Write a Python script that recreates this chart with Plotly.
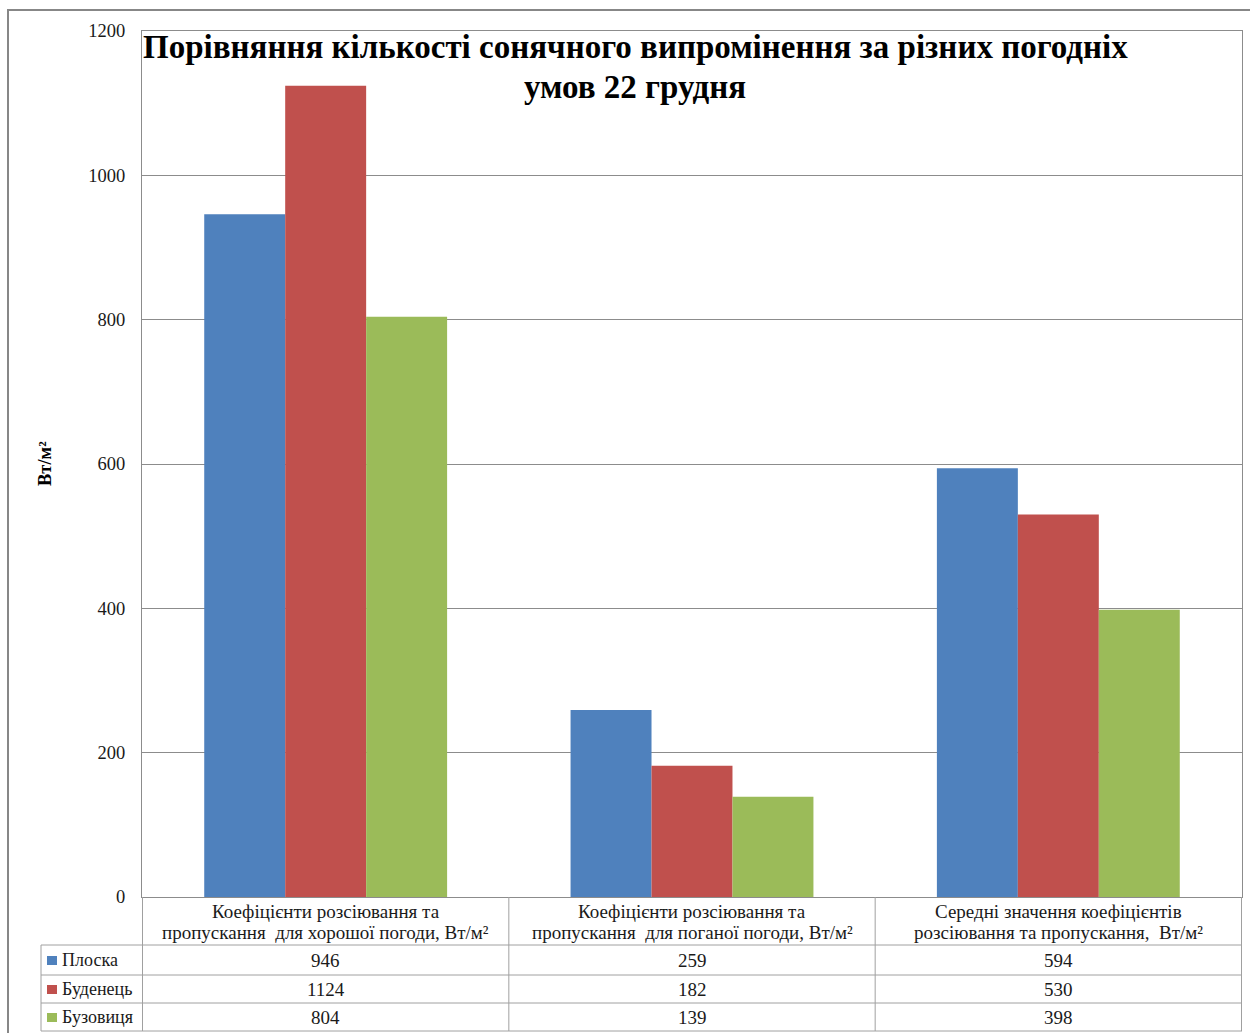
import plotly.graph_objects as go

# ---- data ----
categories = [
    "Коефіцієнти розсіювання та<br>пропускання  для хорошої погоди, Вт/м²",
    "Коефіцієнти розсіювання та<br>пропускання  для поганої погоди, Вт/м²",
    "Середні значення коефіцієнтів<br>розсіювання та пропускання,  Вт/м²",
]
series_names = ["Плоска", "Буденець", "Бузовиця"]
ploska = [946, 259, 594]
budenets = [1124, 182, 530]
buzovytsia = [804, 139, 398]
series_values = [ploska, budenets, buzovytsia]
series_colors = ["#4F81BD", "#C0504D", "#9BBB59"]

y_ticks = [0, 200, 400, 600, 800, 1000, 1200]
title_text = "Порівняння кількості сонячного випромінення за різних погодніх<br>умов 22 грудня"
y_title = "Вт/м²"

# ---- page geometry (pixels) ----
W, H = 1250, 1033
PLOT_L, PLOT_R, PLOT_T, PLOT_B = 142, 1242, 31, 897
TABLE_L = 41
ROW_Y = [945, 975, 1003, 1031]   # bottoms of header row and each series row
GRID = "#8c8c8c"
TABLE_LINE = "#a0a0a0"
FONT = "Liberation Serif"
TXT = "#1a1a1a"


def px(x):
    return x / W


def py(y):
    return 1 - y / H


fig = go.Figure()
for name, vals, col in zip(series_names, series_values, series_colors):
    fig.add_trace(go.Bar(
        x=categories, y=vals, name=name,
        marker=dict(color=col, line=dict(width=0)),
        showlegend=False,
    ))

shapes = []
annotations = []

# outer chart frame
shapes.append(dict(type="rect", xref="paper", yref="paper",
                   x0=px(8), x1=px(1262), y0=py(1045), y1=py(10),
                   line=dict(color="#878787", width=2)))

# horizontal lines of the data table
for yb in ROW_Y:
    shapes.append(dict(type="line", xref="paper", yref="paper",
                       x0=px(TABLE_L), x1=px(PLOT_R), y0=py(yb), y1=py(yb),
                       line=dict(color=TABLE_LINE, width=1)))

# vertical lines of the data table: category boundaries on the x axis
for b in [-0.5, 0.5, 1.5, 2.5]:
    shapes.append(dict(type="line", xref="x", yref="paper",
                       x0=b, x1=b, y0=py(ROW_Y[-1]), y1=py(PLOT_B),
                       line=dict(color=TABLE_LINE, width=1)))
# left edge of the series-name column
shapes.append(dict(type="line", xref="paper", yref="paper",
                   x0=px(TABLE_L), x1=px(TABLE_L), y0=py(ROW_Y[-1]), y1=py(ROW_Y[0]),
                   line=dict(color=TABLE_LINE, width=1)))

# category labels in the header row (one annotation per text line)
for cat in categories:
    for line_text, yc in zip(cat.split("<br>"), [911, 932]):
        annotations.append(dict(
            x=cat, xref="x", y=py(yc), yref="paper",
            text=line_text, showarrow=False, xanchor="center", yanchor="middle",
            font=dict(family=FONT, size=19, color=TXT),
        ))

# series rows: legend key + name + values
row_tops = ROW_Y[:-1]
row_bots = ROW_Y[1:]
for name, vals, col, yt, yb in zip(series_names, series_values, series_colors, row_tops, row_bots):
    yc = (yt + yb) / 2
    shapes.append(dict(type="rect", xref="paper", yref="paper",
                       x0=px(47), x1=px(57), y0=py(yc + 5), y1=py(yc - 4),
                       fillcolor=col, line=dict(width=0)))
    annotations.append(dict(
        x=px(60), xref="paper", y=py(yc), yref="paper",
        text=name, showarrow=False, xanchor="left", yanchor="middle",
        font=dict(family=FONT, size=18, color=TXT),
    ))
    for cat, v in zip(categories, vals):
        annotations.append(dict(
            x=cat, xref="x", y=py(yc), yref="paper",
            text=str(v), showarrow=False, xanchor="center", yanchor="middle",
            font=dict(family=FONT, size=19, color=TXT),
        ))

# chart title, two centred lines
for line_text, yc in zip(title_text.split("<br>"), [47, 87]):
    annotations.append(dict(
        x=px(635), xref="paper", y=py(yc), yref="paper",
        text="<b>" + line_text + "</b>", showarrow=False,
        xanchor="center", yanchor="middle",
        font=dict(family=FONT, size=33, color="#000000"),
    ))

# y axis title
annotations.append(dict(
    x=px(45), xref="paper", y=py(464), yref="paper",
    text="<b>" + y_title + "</b>", showarrow=False, textangle=-90,
    xanchor="center", yanchor="middle",
    font=dict(family=FONT, size=18.5, color="#000000"),
))

fig.update_layout(
    width=W, height=H,
    margin=dict(l=0, r=0, t=0, b=0, autoexpand=False),
    paper_bgcolor="white", plot_bgcolor="white",
    barmode="group", bargap=0.337, bargroupgap=0,
    shapes=shapes, annotations=annotations,
    xaxis=dict(domain=[px(PLOT_L), px(PLOT_R)], showticklabels=False,
               showline=True, linecolor=GRID, linewidth=1, mirror=True,
               showgrid=False, zeroline=False, fixedrange=True,
               automargin=False),
    yaxis=dict(domain=[py(PLOT_B), py(PLOT_T)], range=[0, 1200],
               tickvals=y_ticks, ticktext=[str(t) for t in y_ticks],
               showgrid=True, gridcolor=GRID, gridwidth=1,
               showline=True, linecolor=GRID, linewidth=1, mirror=True,
               zeroline=False, ticks="", ticklabelstandoff=12,
               tickfont=dict(family=FONT, size=18.5, color=TXT),
               fixedrange=True, automargin=False),
    font=dict(family=FONT),
)

fig.write_html("out.html")
